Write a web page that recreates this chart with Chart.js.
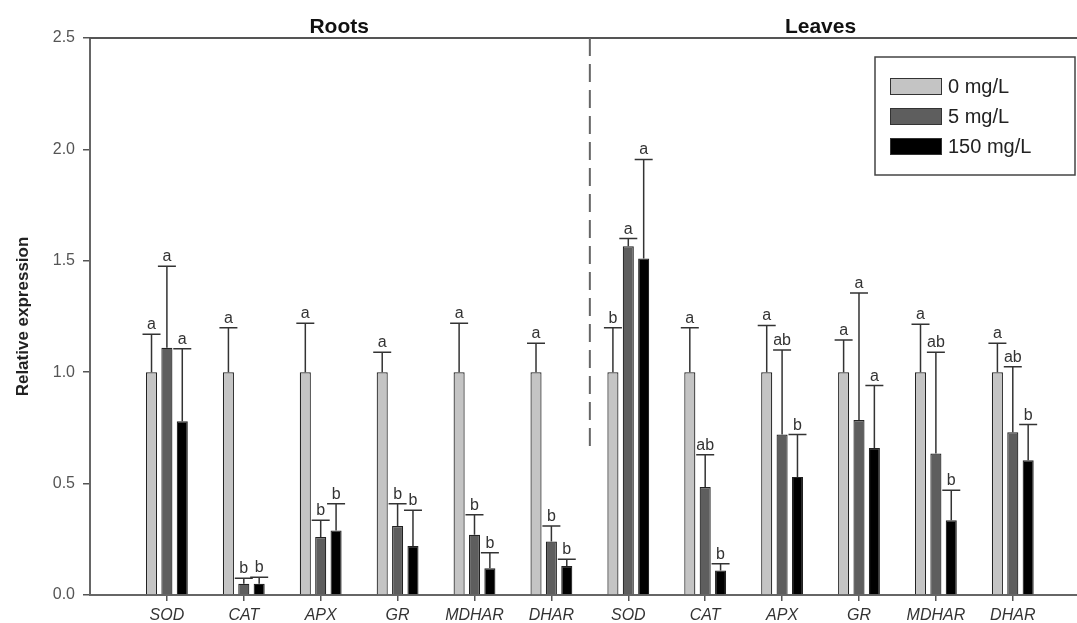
<!DOCTYPE html>
<html><head><meta charset="utf-8">
<script src="https://cdn.jsdelivr.net/npm/chart.js@4.4.1/dist/chart.umd.min.js"></script>
<style>html,body{margin:0;padding:0;background:#fff}#wrap{width:1077px;height:623px;position:relative}</style>
</head><body><div id="wrap"><canvas id="c"></canvas></div>
<script>
const categories = ['SOD','CAT','APX','GR','MDHAR','DHAR','SOD','CAT','APX','GR','MDHAR','DHAR'];
const seriesLabels = ['0 mg/L','5 mg/L','150 mg/L'];
const mean0   = [1.00,1.00,1.00,1.00,1.00,1.00, 1.00,1.00,1.00,1.00,1.00,1.00];
const err0Top = [1.17,1.20,1.22,1.09,1.22,1.13, 1.20,1.20,1.21,1.145,1.215,1.13];
const mean5   = [1.11,0.05,0.26,0.31,0.27,0.24, 1.565,0.485,0.72,0.785,0.635,0.73];
const err5Top = [1.475,0.075,0.335,0.41,0.36,0.31, 1.60,0.63,1.10,1.355,1.09,1.025];
const mean150   = [0.78,0.05,0.29,0.22,0.12,0.13, 1.51,0.11,0.53,0.66,0.335,0.605];
const err150Top = [1.105,0.08,0.41,0.38,0.19,0.16, 1.955,0.14,0.72,0.94,0.47,0.765];
const letters0   = ['a','a','a','a','a','a', 'b','a','a','a','a','a'];
const letters5   = ['a','b','b','b','b','b', 'a','ab','ab','a','ab','ab'];
const letters150 = ['a','b','b','b','b','b', 'a','b','b','a','b','b'];
const yTicks = [0,0.5,1.0,1.5,2.0,2.5];
const sectionTitles = ['Roots','Leaves'];
const sectionTitleX = [3.24, 9.5];
const dividerX = 6.5;
const dividerBottom = 0.64;

const FONT = '"Liberation Sans", Arial, sans-serif';
const fills = ['#c4c4c4','#5e5e5e','#000000'];
const means = [mean0, mean5, mean150];
const tops = [err0Top, err5Top, err150Top];
const lets = [letters0, letters5, letters150];

const decor = {
  id: 'decor',
  afterDatasetsDraw(chart) {
    const ctx = chart.ctx, xs = chart.scales.x, ys = chart.scales.y, ca = chart.chartArea;
    chart.data.datasets.forEach((ds, di) => {
      const meta = chart.getDatasetMeta(di);
      meta.data.forEach((bar, i) => {
        const x = bar.x, y0 = bar.y, yt = ys.getPixelForValue(tops[di][i]);
        ctx.save();
        ctx.strokeStyle = '#333'; ctx.lineWidth = 1.5;
        ctx.beginPath();
        ctx.moveTo(x, y0); ctx.lineTo(x, yt);
        ctx.moveTo(x - 9, yt); ctx.lineTo(x + 9, yt);
        ctx.stroke();
        ctx.fillStyle = '#333'; ctx.font = '16px ' + FONT;
        ctx.textAlign = 'center'; ctx.textBaseline = 'alphabetic';
        ctx.fillText(lets[di][i], x, yt - 5);
        ctx.restore();
      });
    });
    ctx.save();
    ctx.strokeStyle = '#555'; ctx.lineWidth = 2;
    ctx.beginPath(); ctx.moveTo(ca.left - 1, ca.top); ctx.lineTo(ca.right, ca.top); ctx.stroke();
    const dx = xs.getPixelForValue(dividerX);
    ctx.strokeStyle = '#666'; ctx.lineWidth = 2; ctx.setLineDash([18, 8]);
    ctx.beginPath(); ctx.moveTo(dx, ca.top); ctx.lineTo(dx, ys.getPixelForValue(dividerBottom)); ctx.stroke();
    ctx.setLineDash([]);
    ctx.fillStyle = '#111'; ctx.font = 'bold 21px ' + FONT; ctx.textAlign = 'center'; ctx.textBaseline = 'alphabetic';
    sectionTitles.forEach((t, k) => ctx.fillText(t, xs.getPixelForValue(sectionTitleX[k]), ca.top - 5));
    const lx = 875, ly = 57, lw = 200, lh = 118;
    ctx.fillStyle = '#fff'; ctx.fillRect(lx, ly, lw, lh);
    ctx.strokeStyle = '#444'; ctx.lineWidth = 1.5; ctx.strokeRect(lx, ly, lw, lh);
    seriesLabels.forEach((lab, k) => {
      const cy = 86.5 + k * 30;
      ctx.fillStyle = fills[k]; ctx.fillRect(890, cy - 8.5, 52, 17);
      ctx.strokeStyle = '#333'; ctx.lineWidth = 1; ctx.strokeRect(890.5, cy - 8, 51, 16);
      ctx.fillStyle = '#222'; ctx.font = '20px ' + FONT; ctx.textAlign = 'left'; ctx.textBaseline = 'middle';
      ctx.fillText(lab, 948, cy + 1);
    });
    ctx.restore();
  }
};

new Chart(document.getElementById('c'), {
  type: 'bar',
  data: {
    datasets: seriesLabels.map((lab, k) => ({
      label: lab,
      data: means[k].map((v, i) => ({ x: i + 1, y: v })),
      backgroundColor: fills[k],
      borderColor: '#222',
      borderWidth: 1.2,
      categoryPercentage: 0.6,
      barPercentage: 0.72
    }))
  },
  options: {
    responsive: true,
    maintainAspectRatio: false,
    animation: false,
    layout: { padding: { top: 38, right: 0, left: 0, bottom: 0 } },
    plugins: { legend: { display: false }, tooltip: { enabled: false } },
    scales: {
      x: {
        type: 'linear',
        offset: false,
        min: 0,
        max: 12.835,
        afterBuildTicks: s => { s.ticks = categories.map((c, i) => ({ value: i + 1 })); },
        afterFit: s => { s.height = 28; },
        ticks: {
          autoSkip: false, maxRotation: 0, padding: 5,
          color: '#333',
          font: { family: FONT, size: 16, style: 'italic' },
          callback: (v) => categories[v - 1] || ''
        },
        grid: { offset: false, drawOnChartArea: false, drawTicks: true, tickLength: 6, color: '#555', lineWidth: 1.5 },
        border: { display: true, color: '#666', width: 2 }
      },
      y: {
        min: 0, max: 2.5,
        afterBuildTicks: s => { s.ticks = yTicks.map(v => ({ value: v })); },
        afterFit: s => { s.width = 90; },
        ticks: {
          padding: 8, color: '#555',
          font: { family: FONT, size: 16 },
          callback: v => Number(v).toFixed(1)
        },
        grid: { drawOnChartArea: false, drawTicks: true, tickLength: 7, color: '#555', lineWidth: 1.5 },
        border: { display: true, color: '#666', width: 2 },
        title: { display: true, text: 'Relative expression', color: '#222', font: { family: FONT, size: 17, weight: 'bold' }, padding: { top: 13, bottom: 0 } }
      }
    }
  },
  plugins: [decor]
});
</script>
</body></html>
